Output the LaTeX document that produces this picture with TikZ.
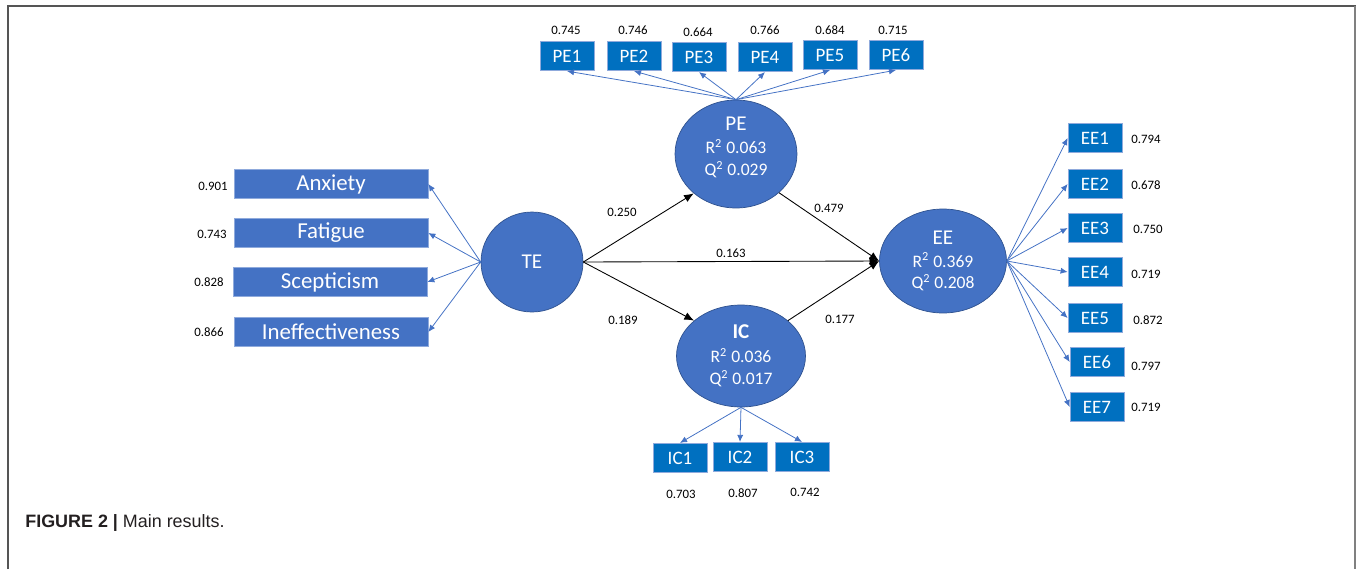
\documentclass[tikz,border=0pt]{standalone}
\usepackage{fontspec}
\setmainfont{Carlito}
\newfontfamily\capfont{Liberation Sans}
\usepackage{xcolor}
\usetikzlibrary{arrows.meta, positioning, shapes.geometric}
\definecolor{latentBlue}{RGB}{68,114,196}
\definecolor{latentEdge}{RGB}{47,82,143}
\definecolor{itemBlue}{RGB}{0,112,192}
\definecolor{itemEdge}{RGB}{143,170,220}
\definecolor{frameGray}{RGB}{85,85,85}
\definecolor{capText}{RGB}{35,31,32}
\newcommand{\rsq}[1]{R\textsuperscript{2} #1}
\newcommand{\qsq}[1]{Q\textsuperscript{2} #1}
\tikzset{
    latent/.style={
        ellipse,
        draw=latentEdge,
        fill=latentBlue,
        text=white,
        align=center,
        inner sep=0pt,
        minimum width=2.48cm,
        minimum height=2.08cm,
        font=\fontsize{10}{12}\selectfont
    },
    dimbox/.style={
        rectangle,
        draw=itemEdge,
        fill=latentBlue,
        text=white,
        minimum width=3.88cm,
        minimum height=0.58cm,
        inner sep=0pt,
        font=\fontsize{13}{15}\selectfont
    },
    itembox/.style={
        rectangle,
        draw=itemEdge,
        fill=itemBlue,
        text=white,
        minimum width=1.08cm,
        minimum height=0.59cm,
        inner sep=0pt,
        font=\fontsize{10.8}{13}\selectfont
    },
    loading/.style={font=\fontsize{7.3}{8.6}\selectfont, inner sep=0pt},
    coef/.style={font=\fontsize{7.3}{8.6}\selectfont, inner sep=0pt},
    patharrow/.style={-{Latex[length=5.5pt, width=4.5pt]}, draw=black, line width=0.5pt},
    itemarrow/.style={-{Latex[length=4pt, width=3.5pt]}, draw=latentBlue, line width=0.45pt}
}
\begin{document}
\begin{tikzpicture}[x=0.02cm, y=-0.02cm]
        \useasboundingbox (0,0) rectangle (1357,569);
        % frame
        \draw[frameGray, line width=1pt] (8,569) -- (8,6) -- (1356,6);
        \draw[gray, line width=1.6pt] (1355,6) -- (1355,569);

        % latent variables
        \node[latent, minimum width=2.04cm, minimum height=2.0cm, font=\fontsize{12}{14}\selectfont] (te) at (532,262) {TE};
        \node[latent, minimum width=2.44cm, minimum height=2.16cm, text depth=9pt] (pe) at (736,154)
            {{\fontsize{12}{14}\selectfont PE}\\[1.5pt] \rsq{0.063}\\[0.5pt] \qsq{0.029}};
        \node[latent, minimum width=2.54cm, minimum height=2.08cm] (ee) at (943,261)
            {{\fontsize{12}{14}\selectfont EE}\\[1pt] \rsq{0.369}\\[0.3pt] \qsq{0.208}};
        \node[latent, minimum width=2.58cm, minimum height=2.04cm] (ic) at (741,356)
            {{\fontsize{12}{14}\selectfont\bfseries IC}\\[1.5pt] \rsq{0.036}\\[0.5pt] \qsq{0.017}};

        % burnout dimensions
        \node[dimbox] (anx) at (331,184) {Anxiety};
        \node[dimbox] (fat) at (331,233) {Fatigue};
        \node[dimbox] (sce) at (330,282) {Scepticism};
        \node[dimbox] (ine) at (331,332) {Ineffectiveness};

        % PE items
        \node[itembox] (pe1) at (567,56) {PE1};
        \node[itembox] (pe2) at (634,56) {PE2};
        \node[itembox] (pe3) at (699,57) {PE3};
        \node[itembox] (pe4) at (765,57) {PE4};
        \node[itembox] (pe5) at (830,55) {PE5};
        \node[itembox] (pe6) at (896,55) {PE6};

        % EE items
        \node[itembox] (ee1) at (1095,138) {EE1};
        \node[itembox] (ee2) at (1095,184) {EE2};
        \node[itembox] (ee3) at (1095,228) {EE3};
        \node[itembox] (ee4) at (1095,272) {EE4};
        \node[itembox] (ee5) at (1095,318) {EE5};
        \node[itembox] (ee6) at (1097,362) {EE6};
        \node[itembox] (ee7) at (1097,407) {EE7};

        % IC items
        \node[itembox] (ic1) at (680,458) {IC1};
        \node[itembox] (ic2) at (740,457) {IC2};
        \node[itembox] (ic3) at (802,457) {IC3};

        % loadings
        \node[loading] (lanx) at (213,186) {0.901};
        \node[loading] (lfat) at (212,234) {0.743};
        \node[loading] (lsce) at (209,282) {0.828};
        \node[loading] (line) at (209,332) {0.866};
        \node[loading] (lpe1) at (566,30) {0.745};
        \node[loading] (lpe2) at (633,30) {0.746};
        \node[loading] (lpe3) at (698,32) {0.664};
        \node[loading] (lpe4) at (765,30) {0.766};
        \node[loading] (lpe5) at (830,30) {0.684};
        \node[loading] (lpe6) at (893,30) {0.715};
        \node[loading] (lee1) at (1146,139) {0.794};
        \node[loading] (lee2) at (1146,185) {0.678};
        \node[loading] (lee3) at (1148,229) {0.750};
        \node[loading] (lee4) at (1146,274) {0.719};
        \node[loading] (lee5) at (1148,320) {0.872};
        \node[loading] (lee6) at (1146,366) {0.797};
        \node[loading] (lee7) at (1146,407) {0.719};
        \node[loading] (lic1) at (681,494) {0.703};
        \node[loading] (lic2) at (743,493) {0.807};
        \node[loading] (lic3) at (805,492) {0.742};

        % item arrows
        \draw[itemarrow] (te.west) -- (anx.east);
        \draw[itemarrow] (te.west) -- (fat.east);
        \draw[itemarrow] (te.west) -- (sce.east);
        \draw[itemarrow] (te.west) -- (ine.east);
        \draw[itemarrow] (pe.north) -- (pe1.south);
        \draw[itemarrow] (pe.north) -- (pe2.south);
        \draw[itemarrow] (pe.north) -- (pe3.south);
        \draw[itemarrow] (pe.north) -- (pe4.south);
        \draw[itemarrow] (pe.north) -- (pe5.south);
        \draw[itemarrow] (pe.north) -- (pe6.south);
        \draw[itemarrow] (ee.east) -- (ee1.west);
        \draw[itemarrow] (ee.east) -- (ee2.west);
        \draw[itemarrow] (ee.east) -- (ee3.west);
        \draw[itemarrow] (ee.east) -- (ee4.west);
        \draw[itemarrow] (ee.east) -- (ee5.west);
        \draw[itemarrow] (ee.east) -- (ee6.west);
        \draw[itemarrow] (ee.east) -- (ee7.west);
        \draw[itemarrow] (ic.south) -- (ic1.north);
        \draw[itemarrow] (ic.south) -- (ic2.north);
        \draw[itemarrow] (ic.south) -- (ic3.north);

        % structural paths
        \draw[patharrow] (te.east) -- (pe.223);
        \draw[patharrow] (te.east) -- (ee.west);
        \draw[patharrow] (te.east) -- (ic.143);
        \draw[patharrow] (pe.318) -- (ee.west);
        \draw[patharrow] (ic.37) -- (ee.west);
        \node[coef] (c250) at (622,212) {0.250};
        \node[coef] (c163) at (731,253) {0.163};
        \node[coef] (c189) at (623,320) {0.189};
        \node[coef] (c479) at (829,208) {0.479};
        \node[coef] (c177) at (840,319) {0.177};

        % caption
        \node[anchor=west, inner sep=0pt, text=capText, font=\capfont\fontsize{10.2}{12}\selectfont] (cap) at (25,523)
            {\textbf{FIGURE 2 |} Main results.};
    \end{tikzpicture}
\end{document}
